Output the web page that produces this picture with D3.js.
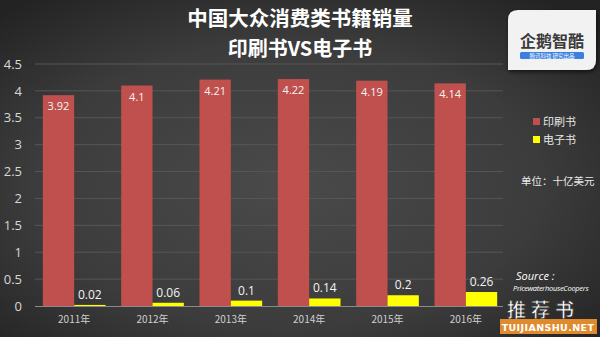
<!DOCTYPE html>
<html>
<head>
<meta charset="utf-8">
<script src="https://cdn.jsdelivr.net/npm/d3@7"></script>
<style>
  html, body { margin: 0; padding: 0; background: #2a2a2a; }
  svg { display: block; }
  text { font-family: "Noto Sans CJK SC", "Open Sans", sans-serif; }
</style>
</head>
<body>
<svg id="chart" width="600" height="337"></svg>
<script>
// Chinese mass-market book sales, print vs e-book (billion USD)
const years = ["2011年", "2012年", "2013年", "2014年", "2015年", "2016年"];
const printSales = [3.92, 4.1, 4.21, 4.22, 4.19, 4.14];
const ebookSales = [0.02, 0.06, 0.1, 0.14, 0.2, 0.26];
const yTicks = [0, 0.5, 1, 1.5, 2, 2.5, 3, 3.5, 4, 4.5];
const seriesNames = ["印刷书", "电子书"];
const seriesColors = ["#c0504d", "#ffff00"];

const svg = d3.select("#chart");
const W = 600, H = 337;

// backdrop with soft vignette
const defs = svg.append("defs");
const rg = defs.append("radialGradient").attr("id", "bg")
  .attr("cx", "48%").attr("cy", "55%").attr("r", "70%");
rg.append("stop").attr("offset", "0%").attr("stop-color", "#4a4a4a");
rg.append("stop").attr("offset", "60%").attr("stop-color", "#3c3c3c");
rg.append("stop").attr("offset", "100%").attr("stop-color", "#232323");
svg.append("rect").attr("width", W).attr("height", H).attr("fill", "url(#bg)");

const flt = defs.append("filter").attr("id", "shadow").attr("x", "-20%").attr("y", "-20%").attr("width", "150%").attr("height", "150%");
flt.append("feDropShadow").attr("dx", 1).attr("dy", 2).attr("stdDeviation", 2).attr("flood-color", "#000").attr("flood-opacity", 0.6);

const x0 = d3.scaleBand().domain(years).range([35, 505]).paddingInner(0.2).paddingOuter(0.1);
const x1 = d3.scaleBand().domain([0, 1]).range([0, x0.bandwidth()]);
const y = d3.scaleLinear().domain([0, 4.5]).range([306, 64]);

// gridlines
svg.append("g").selectAll("line").data(yTicks.filter(t => t > 0)).join("line")
  .attr("x1", 35).attr("x2", 503)
  .attr("y1", d => y(d)).attr("y2", d => y(d))
  .attr("stroke", "#575757").attr("stroke-width", 1);

// y axis labels
const yAxis = d3.axisLeft(y).tickValues(yTicks).tickFormat(d3.format("")).tickSize(0).tickPadding(0);
const ya = svg.append("g").attr("transform", "translate(22,0)").call(yAxis);
ya.select(".domain").remove();
ya.selectAll("text").attr("fill", "#d8d8d8").attr("font-size", 13)
  .style("font-family", "'Open Sans', sans-serif");

// grouped bars
const series = [printSales, ebookSales];
const groups = svg.append("g").selectAll("g").data(years).join("g")
  .attr("transform", d => `translate(${x0(d)},0)`);

groups.selectAll("rect").data((d, i) => series.map((s, k) => ({ k, v: s[i] }))).join("rect")
  .attr("x", d => x1(d.k))
  .attr("width", x1.bandwidth())
  .attr("y", d => y(d.v))
  .attr("height", d => y(0) - y(d.v))
  .attr("fill", d => seriesColors[d.k]);

groups.selectAll("text.val").data((d, i) => series.map((s, k) => ({ k, v: s[i] }))).join("text")
  .attr("class", "val")
  .attr("x", d => x1(d.k) + x1.bandwidth() / 2)
  .attr("y", d => d.k === 0 ? y(d.v) + 15 : y(d.v) - 6)
  .attr("text-anchor", "middle")
  .attr("fill", "#f4f4f4")
  .attr("font-size", d => d.k === 0 ? 11 : 12)
  .style("font-family", "'Open Sans', sans-serif")
  .text(d => d.v);

// x axis
const xAxis = d3.axisBottom(x0).tickSize(0).tickPadding(10);
const xa = svg.append("g").attr("transform", `translate(0,${y(0)})`).call(xAxis);
xa.select(".domain").attr("stroke", "#8a8a8a").attr("d", "M35,0.5H503");
xa.selectAll("text").attr("fill", "#d0d0d0").attr("font-size", 10);

// titles
svg.append("text").attr("x", 300).attr("y", 26).attr("text-anchor", "middle")
  .attr("fill", "#ffffff").attr("font-size", 20.5).attr("font-weight", "bold")
  .text("中国大众消费类书籍销量");
svg.append("text").attr("x", 300).attr("y", 56).attr("text-anchor", "middle")
  .attr("fill", "#ffffff").attr("font-size", 20).attr("font-weight", "bold")
  .text("印刷书VS电子书");

// legend
const lg = svg.append("g").selectAll("g").data(seriesNames).join("g")
  .attr("transform", (d, i) => `translate(533,${122 + i * 18})`);
lg.append("rect").attr("x", 0).attr("y", -4).attr("width", 7).attr("height", 7)
  .attr("fill", (d, i) => seriesColors[i]);
lg.append("text").attr("x", 10).attr("y", 4).attr("fill", "#e8e8e8").attr("font-size", 11).text(d => d);

svg.append("text").attr("x", 521).attr("y", 185).attr("fill", "#e8e8e8").attr("font-size", 10.5)
  .text("单位：十亿美元");

// source note
svg.append("text").attr("x", 516).attr("y", 280).attr("fill", "#ffffff").attr("font-size", 11)
  .attr("font-style", "italic").style("font-family", "'Open Sans', sans-serif").text("Source :");
svg.append("text").attr("x", 513).attr("y", 291).attr("fill", "#ffffff").attr("font-size", 7.5)
  .attr("font-style", "italic").attr("letter-spacing", -0.3).style("font-family", "'Open Sans', sans-serif")
  .text("PricewaterhouseCoopers");

// publisher badge
const badge = svg.append("g").attr("transform", "translate(508,10)");
badge.append("path")
  .attr("d", "M10,0 H88 V50 Q88,60 78,60 H0 V10 Q0,0 10,0 Z")
  .attr("fill", "#f2f2f2").attr("filter", "url(#shadow)");
badge.append("text").attr("x", 44).attr("y", 37).attr("text-anchor", "middle")
  .attr("fill", "#3a3a3a").attr("font-size", 16).attr("font-weight", "bold").text("企鹅智酷");
badge.append("rect").attr("x", 12).attr("y", 42).attr("width", 64).attr("height", 7).attr("rx", 1.5)
  .attr("fill", "#3b7fe0");
badge.append("text").attr("x", 44).attr("y", 48).attr("text-anchor", "middle")
  .attr("fill", "#ffffff").attr("font-size", 5.5).text("腾讯科技  研究出品");

// site mark, lower right
svg.append("text").attr("x", 543).attr("y", 317).attr("text-anchor", "middle")
  .attr("fill", "#ffffff").attr("stroke", "#333").attr("stroke-width", 0.8)
  .attr("font-size", 19).attr("font-weight", "bold").attr("letter-spacing", 5).text("推荐书");
svg.append("rect").attr("x", 500).attr("y", 319).attr("width", 97).attr("height", 15).attr("fill", "#e08a2e");
svg.append("text").attr("x", 548).attr("y", 330.5).attr("text-anchor", "middle")
  .attr("fill", "#ffffff").attr("font-size", 9.5).attr("font-weight", "bold").attr("letter-spacing", 0.4)
  .style("font-family", "'DejaVu Sans', sans-serif").text("TUIJIANSHU.NET");
</script>
</body>
</html>
